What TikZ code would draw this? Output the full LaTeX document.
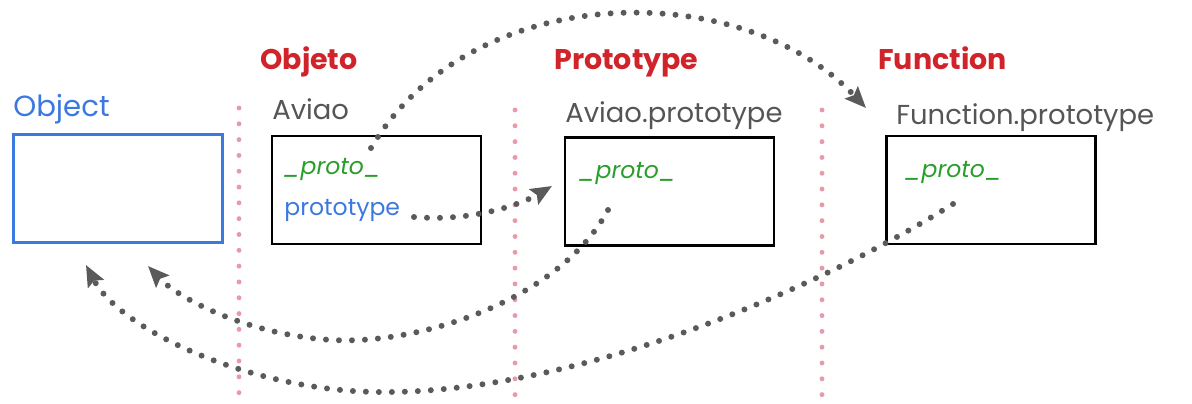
\documentclass[tikz,border=0pt]{standalone}
\usepackage{fontspec}
\setmainfont{Poppins}
\usepackage{tikz}
\usetikzlibrary{arrows.meta}
\definecolor{headred}{HTML}{D0232A}
\definecolor{objblue}{HTML}{3B78E0}
\definecolor{protogreen}{HTML}{2A9E2A}
\definecolor{namegray}{HTML}{555555}
\definecolor{dotgray}{HTML}{5A5A5A}
\definecolor{seppink}{HTML}{E89AA8}

\begin{document}
\begin{tikzpicture}[x=0.02cm,y=-0.02cm,
  heading/.style={anchor=base west,inner sep=0pt,text=headred,font=\fontsize{16.2}{18}\selectfont\bfseries},
  objname/.style={anchor=base west,inner sep=0pt,text=namegray,font=\fontsize{15.6}{18}\selectfont},
  slot/.style={anchor=base west,inner sep=0pt,text=protogreen,font=\fontsize{13.4}{18}\selectfont\itshape},
  objbox/.style={draw,line width=1.4pt,inner sep=0pt,minimum width=4.18cm,minimum height=2.16cm},
  sepline/.style={seppink,line width=2.8pt,line cap=round,dash pattern=on 0pt off 9pt},
  link/.style={dotgray,line width=3.4pt,line cap=round,dash pattern=on 0pt off 7.4pt,
    -{Stealth[length=12pt,width=10pt,inset=2pt]}}]
  \useasboundingbox (0,0) rectangle (1192,404);
  % separators
  \draw[sepline] (239,108) -- (239,400);
  \draw[sepline] (515,110) -- (515,400);
  \draw[sepline] (822,110) -- (822,400);
  % headings
  \node[heading] (objeto) at (260,70) {Objeto};
  \node[heading] (prototype) at (554,70) {Prototype};
  \node[heading] (function) at (878,70) {Function};
  % boxes
  \node[objbox,draw=objblue,line width=1.7pt] (object) at (118,188.5) {};
  \node[objbox] (aviao) at (376.5,190) {};
  \node[objbox] (aviaoproto) at (669.5,191.5) {};
  \node[objbox] (functionproto) at (991,190) {};
  % names
  \node[objname,text=objblue,font=\fontsize{16.6}{18}\selectfont] (objectname) at (13,117) {Object};
  \node[objname] (aviaoname) at (272,120) {Aviao};
  \node[objname] (aviaoprotoname) at (565,123) {Aviao.prototype};
  \node[objname] (functionprotoname) at (896,125) {Function.prototype};
  % slots
  \node[slot] (aviaoslot) at (283,175) {\_proto\_};
  \node[slot,text=objblue,font=\fontsize{13.4}{18}\selectfont] (aviaoprototype) at (284,216) {prototype};
  \node[slot] (aviaoprotoslot) at (578,179) {\_proto\_};
  \node[slot] (functionprotoslot) at (904,178) {\_proto\_};
  % link ends
  \coordinate (aviaoTail) at (371,148);
  \coordinate (functionHead) at (866,108);
  \coordinate (prototypeTail) at (414,217);
  \coordinate (aviaoprotoHead) at (552,186);
  \coordinate (aviaoprotoTail) at (608,210);
  \coordinate (objectHeadA) at (148,266);
  \coordinate (functionprotoTail) at (953,204);
  \coordinate (objectHeadB) at (86,265);
  % links
  \draw[link] (aviaoTail) .. controls (470,-20) and (740,-25) .. (functionHead);
  \draw[link] (prototypeTail) .. controls (470,222) and (520,205) .. (aviaoprotoHead);
  \draw[link] (aviaoprotoTail) .. controls (560,300) and (420,345) .. (332,340)
    .. controls (250,335) and (180,300) .. (objectHeadA);
  \draw[link] (functionprotoTail) .. controls (800,300) and (560,395) .. (376,392)
    .. controls (250,390) and (120,330) .. (objectHeadB);
\end{tikzpicture}
\end{document}
